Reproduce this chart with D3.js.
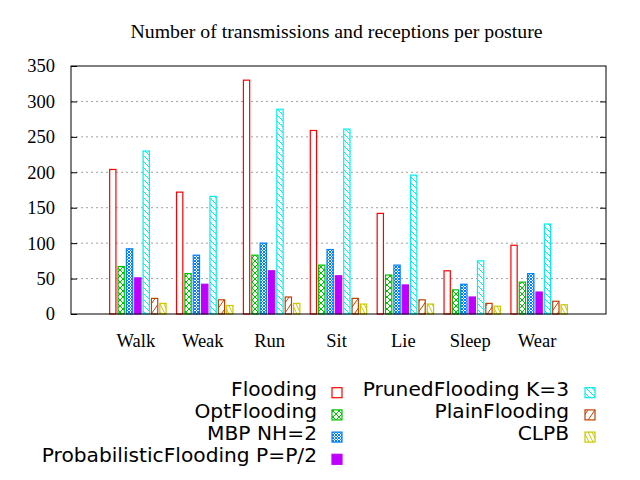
<!DOCTYPE html>
<html>
<head>
<meta charset="utf-8">
<script src="https://cdn.jsdelivr.net/npm/d3@7"></script>
<style>
  body { margin: 0; background: #fff; }
  svg { display: block; }
</style>
</head>
<body>
<svg></svg>
<script>
let postures = ['Walk', 'Weak', 'Run', 'Sit', 'Lie', 'Sleep', 'Wear'];
let seriesNames = ['Flooding', 'OptFlooding', 'MBP NH=2', 'ProbabilisticFlooding P=P/2',
                   'PrunedFlooding K=3', 'PlainFlooding', 'CLPB'];
let flooding      = [204, 172, 330, 259, 142, 61, 97];
let optFlooding   = [67, 57, 83, 69, 55, 34, 45];
let mbp           = [92, 83, 100, 91, 69, 42, 57];
let probabilistic = [51, 42, 61, 54, 41, 24, 31];
let pruned        = [230, 166, 289, 261, 196, 75, 127];
let plainFlooding = [22, 20, 24, 22, 20, 15, 18];
let clpb          = [15, 12, 15, 14, 14, 11, 13];
let yTicks = [0, 50, 100, 150, 200, 250, 300, 350];

let seriesValues = [flooding, optFlooding, mbp, probabilistic, pruned, plainFlooding, clpb];
let colors = ['#ff0000', '#00c000', '#0080ff', '#c000ff', '#00eeee', '#c04000', '#c8c800'];

let width = 640;
let height = 480;
let plotLeft = 71, plotRight = 606, plotTop = 66, plotBottom = 314;

let svg = d3.select('svg').attr('width', width).attr('height', height);

/* fill patterns like gnuplot's fs pattern 0..6 */
let defs = svg.append('defs');
let makePattern = (id, w, h, color, lines) => {
    let p = defs.append('pattern')
        .attr('id', id)
        .attr('patternUnits', 'userSpaceOnUse')
        .attr('width', w).attr('height', h);
    p.append('rect').attr('width', w).attr('height', h).attr('fill', '#fff');
    lines.forEach(l => {
        p.append('line')
            .attr('x1', l[0]).attr('y1', l[1]).attr('x2', l[2]).attr('y2', l[3])
            .attr('stroke', color).attr('stroke-width', 1);
    });
};
makePattern('p1', 6, 6, colors[1], [[0, 0, 6, 6], [6, 0, 0, 6]]);
makePattern('p2', 3, 3, colors[2], [[0, 0, 3, 3], [3, 0, 0, 3]]);
makePattern('p4', 6, 6, colors[4], [[-1, -1, 7, 7]]);
makePattern('p5', 7, 10, colors[5], [[0, 10, 7, 0]]);
makePattern('p6', 4, 8, colors[6], [[0, 0, 4, 8], [-4, 0, 0, 8], [4, 0, 8, 8]]);

let fills = ['#ffffff', 'url(#p1)', 'url(#p2)', colors[3], 'url(#p4)', 'url(#p5)', 'url(#p6)'];

/* scales */
let xScale = d3.scaleLinear().domain([-1, 7]).range([plotLeft, plotRight]);
let yScale = d3.scaleLinear().domain([0, 350]).range([plotBottom, plotTop]);
let groupScale = d3.scaleBand().domain(postures).range([xScale(-0.5), xScale(6.5)]);
let barScale = d3.scaleBand().domain(seriesNames)
    .range([0, groupScale.bandwidth()])
    .paddingInner(0.25).paddingOuter(0.625);

/* grid */
svg.append('g')
    .selectAll('line')
    .data(yTicks.filter(t => t > 0 && t < 350))
    .enter()
    .append('line')
    .attr('x1', plotLeft).attr('x2', plotRight)
    .attr('y1', d => yScale(d)).attr('y2', d => yScale(d))
    .attr('stroke', '#a0a0a0')
    .attr('stroke-width', 1)
    .attr('stroke-dasharray', '2,3');

/* bars */
let barData = [];
seriesValues.forEach((vals, j) => {
    vals.forEach((v, i) => barData.push({ group: postures[i], s: j, value: v }));
});
svg.append('g')
    .selectAll('rect')
    .data(barData)
    .enter()
    .append('rect')
    .attr('x', d => groupScale(d.group) + barScale(seriesNames[d.s]))
    .attr('width', barScale.bandwidth())
    .attr('y', d => yScale(d.value))
    .attr('height', d => yScale(0) - yScale(d.value))
    .attr('fill', d => fills[d.s])
    .attr('stroke', d => colors[d.s])
    .attr('stroke-width', 1.2);

/* axes */
let yAxis = d3.axisLeft(yScale).tickValues(yTicks).tickSize(-6).tickPadding(16);
let yG = svg.append('g')
    .attr('transform', 'translate(' + plotLeft + ', 0)')
    .call(yAxis);
yG.select('.domain').remove();
yG.selectAll('text')
    .attr('font-family', '"Liberation Serif", serif')
    .attr('font-size', 18.5)
    .attr('fill', '#000');

let yAxisRight = d3.axisRight(yScale).tickValues(yTicks.filter(t => t > 0 && t < 350)).tickSize(-6).tickFormat('');
let yR = svg.append('g')
    .attr('transform', 'translate(' + plotRight + ', 0)')
    .call(yAxisRight);
yR.select('.domain').remove();

let xAxis = d3.axisBottom(groupScale).tickSize(0).tickPadding(20);
let xG = svg.append('g')
    .attr('transform', 'translate(-2, ' + plotBottom + ')')
    .call(xAxis);
xG.select('.domain').remove();
xG.selectAll('text')
    .attr('font-family', '"Liberation Serif", serif')
    .attr('font-size', 18.5)
    .attr('fill', '#000');

svg.append('rect')
    .attr('x', plotLeft).attr('y', plotTop)
    .attr('width', plotRight - plotLeft).attr('height', plotBottom - plotTop)
    .attr('fill', 'none')
    .attr('stroke', '#000')
    .attr('stroke-width', 1);

/* title */
svg.append('text')
    .attr('x', 336.5).attr('y', 38)
    .attr('text-anchor', 'middle')
    .attr('font-family', '"Liberation Serif", serif')
    .attr('font-size', 19.8)
    .text('Number of transmissions and receptions per posture');

/* legend, two columns of four rows */
let legend = svg.append('g');
seriesNames.forEach((name, j) => {
    let col = Math.floor(j / 4);
    let row = j % 4;
    let textRight = col === 0 ? 317 : 569;
    let boxX = col === 0 ? 332 : 585;
    let yRow = 395.7 + row * 22.2;
    legend.append('text')
        .attr('x', textRight).attr('y', yRow)
        .attr('text-anchor', 'end')
        .attr('font-family', '"DejaVu Sans", sans-serif')
        .attr('font-size', 20.2)
        .text(name);
    legend.append('rect')
        .attr('x', boxX).attr('y', yRow - 8)
        .attr('width', 10).attr('height', 10)
        .attr('fill', fills[j])
        .attr('stroke', colors[j])
        .attr('stroke-width', 1.2);
});
</script>
</body>
</html>
